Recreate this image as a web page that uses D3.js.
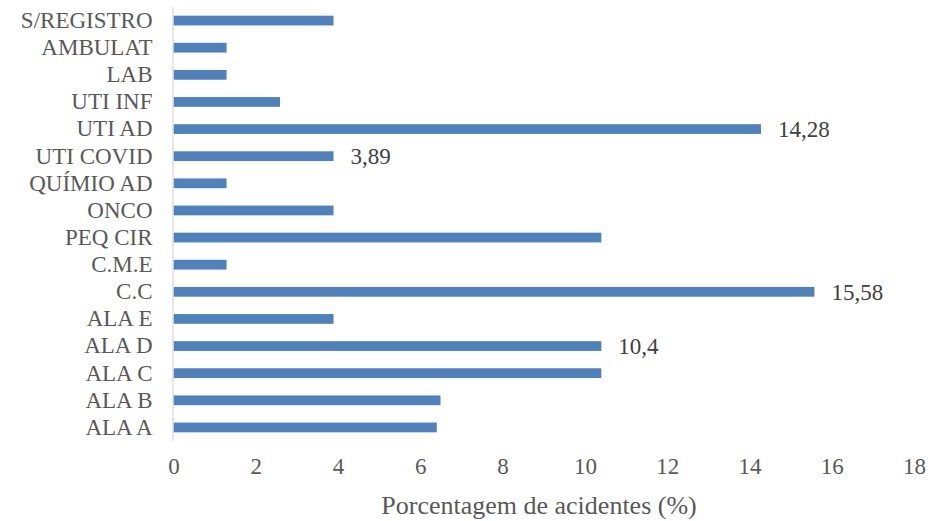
<!DOCTYPE html>
<html>
<head>
<meta charset="utf-8">
<script src="https://cdn.jsdelivr.net/npm/d3@7"></script>
<style>
  html, body { margin: 0; padding: 0; background: #fff; }
  svg { display: block; }
</style>
</head>
<body>
<svg id="chart" width="935" height="521"></svg>
<script>
// Sectors, top to bottom
const sectors = ["S/REGISTRO", "AMBULAT", "LAB", "UTI INF", "UTI AD", "UTI COVID",
  "QUÍMIO AD", "ONCO", "PEQ CIR", "C.M.E", "C.C", "ALA E", "ALA D", "ALA C", "ALA B", "ALA A"];
// Share of accidents per sector (%)
const percentages = [3.89, 1.29, 1.29, 2.59, 14.28, 3.89,
  1.29, 3.89, 10.4, 1.29, 15.58, 3.89, 10.4, 10.4, 6.49, 6.4];
// Sectors whose value is printed beside the bar
const labelled = ["UTI AD", "UTI COVID", "C.C", "ALA D"];
const xTicks = [0, 2, 4, 6, 8, 10, 12, 14, 16, 18];
const xTitle = "Porcentagem de acidentes (%)";

const svg = d3.select("#chart");
const font = "'Liberation Serif', 'Times New Roman', serif";

const x = d3.scaleLinear().domain([0, 18]).range([173.5, 914]);
const y = d3.scaleBand().domain(sectors).range([7, 441]).paddingInner(0.64).paddingOuter(0.32);

// Bars
svg.append("g").selectAll("rect")
  .data(sectors)
  .join("rect")
  .attr("x", x(0))
  .attr("y", d => y(d))
  .attr("width", (d, i) => x(percentages[i]) - x(0))
  .attr("height", y.bandwidth())
  .attr("fill", "#4f81bd");

// Vertical axis line
svg.append("line")
  .attr("x1", x(0) - 0.5).attr("x2", x(0) - 0.5)
  .attr("y1", 7).attr("y2", 441)
  .attr("stroke", "#d9d9d9").attr("stroke-width", 1.3);

// Category labels
const yAxis = svg.append("g")
  .attr("transform", `translate(${x(0)},0)`)
  .call(d3.axisLeft(y).tickSize(0).tickPadding(21));
yAxis.select(".domain").remove();
yAxis.selectAll("text")
  .style("font-family", font).style("font-size", "23px").attr("fill", "#595959");

// Value axis labels
const xAxis = svg.append("g")
  .attr("transform", `translate(0,441)`)
  .call(d3.axisBottom(x).tickValues(xTicks).tickSize(0).tickPadding(17).tickFormat(d3.format("d")));
xAxis.select(".domain").remove();
xAxis.selectAll("text")
  .style("font-family", font).style("font-size", "23px").attr("fill", "#595959");

// Axis title
svg.append("text")
  .attr("x", 539)
  .attr("y", 514)
  .attr("text-anchor", "middle")
  .style("font-family", font).style("font-size", "26px").attr("fill", "#595959")
  .text(xTitle);

// Value labels
const fmt = v => String(v).replace(".", ",");
svg.append("g").selectAll("text")
  .data(sectors.filter(s => labelled.includes(s)))
  .join("text")
  .attr("x", d => x(percentages[sectors.indexOf(d)]) + 17)
  .attr("y", d => y(d) + y.bandwidth() / 2)
  .attr("dy", "0.35em")
  .style("font-family", font).style("font-size", "23px").attr("fill", "#404040")
  .text(d => fmt(percentages[sectors.indexOf(d)]));
</script>
</body>
</html>
